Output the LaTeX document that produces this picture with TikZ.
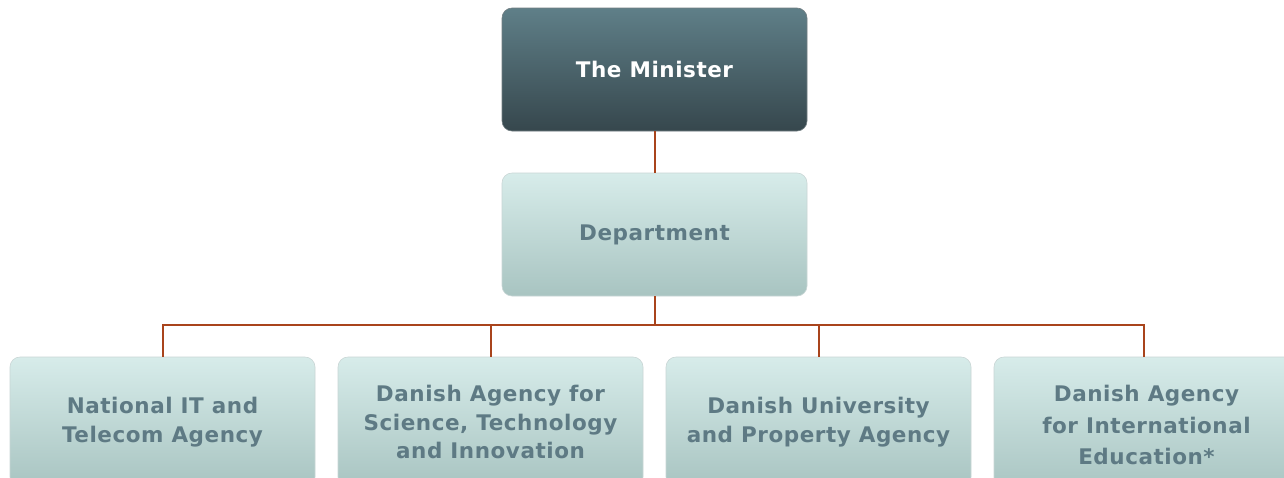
\documentclass[tikz,border=0pt]{standalone}
\usepackage{fontspec}
\setmainfont[LetterSpace=2.5]{DejaVu Sans}
\definecolor{mintop}{HTML}{5F7F88}
\definecolor{minbot}{HTML}{36474D}
\definecolor{boxtop}{HTML}{D7ECEA}
\definecolor{boxbot}{HTML}{A8C4C1}
\definecolor{boxtext}{HTML}{5E7A84}
\definecolor{linkcol}{HTML}{A9441C}
\definecolor{edgecol}{HTML}{C9D6D5}
\tikzset{
  unit/.style={rectangle, rounded corners=10pt, minimum width=305pt, minimum height=123pt,
    inner sep=0pt, align=center, font=\bfseries\fontsize{21.5}{28.5}\selectfont},
  headbox/.style={unit, top color=mintop, bottom color=minbot, draw=minbot!70, line width=0.6pt, text=white},
  orgbox/.style={unit, top color=boxtop, bottom color=boxbot, draw=edgecol, line width=0.6pt, text=boxtext},
  agencybox/.style={orgbox, minimum height=130pt},
  link/.style={draw=linkcol, line width=2pt}
}
\begin{document}
\begin{tikzpicture}[x=1pt,y=-1pt]
\useasboundingbox (0,0) rectangle (1284,477);
\clip (0,0) rectangle (1284,477);
\fill[white] (0,0) rectangle (1284,477);
\node[headbox] (min) at (654.5,69.5) {The Minister};
\node[orgbox] (dep) at (654.5,234.5) {Department};
\node[agencybox] (a1) at (162.5,422) {National IT and\\Telecom Agency};
\node[agencybox] (a2) at (490.5,422) {Danish Agency for\\Science, Technology\\and Innovation};
\node[agencybox] (a3) at (818.5,422) {Danish University\\and Property Agency};
\node[agencybox, minimum height=136pt, font=\bfseries\fontsize{21.5}{31.5}\selectfont] (a4) at (1146.5,425) {Danish Agency\\for International\\Education*};
\coordinate (bus) at (654.5,325);
\coordinate (a4top) at ([xshift=-3pt]a4.north);
\path[link] (min.south) -- (dep.north);
\path[link] (dep.south) -- (bus);
\path[link] (a1.north) -- (a1.north |- bus) -- (a4top |- bus) -- (a4top);
\path[link] (a2.north) -- (a2.north |- bus);
\path[link] (a3.north) -- (a3.north |- bus);
\end{tikzpicture}
\end{document}
